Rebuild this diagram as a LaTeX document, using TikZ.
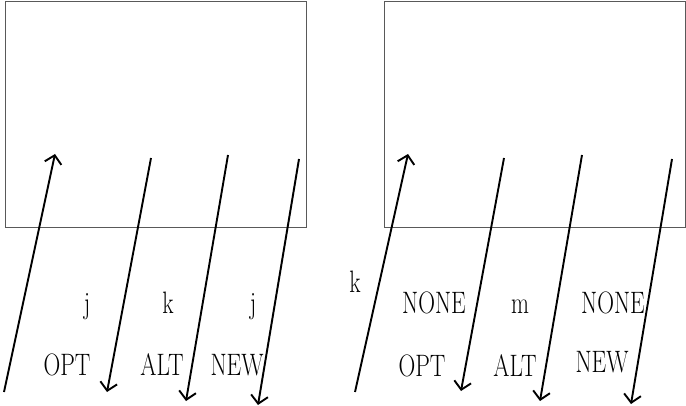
\documentclass[tikz,border=0pt]{standalone}
\usetikzlibrary{arrows.meta}
\begin{document}
\begin{tikzpicture}[x=1pt,y=-1pt,
  panel/.style={draw=black!65,line width=1.2pt},
  arr/.style={line width=1.9pt,-{Straight Barb[length=8pt,width=17pt,line width=1.9pt]}},
  lbl/.style={anchor=base,inner sep=0pt,font=\fontsize{31}{34}\selectfont,xscale=0.75,transform shape}]
\useasboundingbox (0,0) rectangle (686,406);
\node[panel,minimum width=301pt,minimum height=226pt,inner sep=0pt,anchor=north west] (boxA) at (5,0.6) {};
\node[panel,minimum width=301pt,minimum height=226pt,inner sep=0pt,anchor=north west] (boxB) at (383.5,0.6) {};
% left panel arrows
\coordinate (a1s) at (4,392);   \coordinate (a1e) at (55,154);
\coordinate (a2s) at (151,158); \coordinate (a2e) at (107,392);
\coordinate (a3s) at (228,155); \coordinate (a3e) at (186,401);
\coordinate (a4s) at (299,159); \coordinate (a4e) at (258,405);
\draw[arr] (a1s) -- (a1e);
\draw[arr] (a2s) -- (a2e);
\draw[arr] (a3s) -- (a3e);
\draw[arr] (a4s) -- (a4e);
% right panel arrows
\coordinate (b1s) at (355,392); \coordinate (b1e) at (408,154);
\coordinate (b2s) at (504,158); \coordinate (b2e) at (461,391);
\coordinate (b3s) at (582,155); \coordinate (b3e) at (540,401);
\coordinate (b4s) at (672,159); \coordinate (b4e) at (631,404);
\draw[arr] (b1s) -- (b1e);
\draw[arr] (b2s) -- (b2e);
\draw[arr] (b3s) -- (b3e);
\draw[arr] (b4s) -- (b4e);
% left labels
\node[lbl] (lj1) at (87,313) {j};
\node[lbl] (lk) at (168,313) {k};
\node[lbl] (lj2) at (253,313) {j};
\node[lbl] (lopt) at (67,375) {OPT};
\node[lbl] (lalt) at (162,375) {ALT};
\node[lbl] (lnew) at (237,375) {NEW};
% right labels
\node[lbl] (rk) at (355,293) {k};
\node[lbl] (rnone1) at (434,313) {NONE};
\node[lbl] (rm) at (520,313) {m};
\node[lbl] (rnone2) at (613,313) {NONE};
\node[lbl] (ropt) at (422,377) {OPT};
\node[lbl] (ralt) at (515,377) {ALT};
\node[lbl] (rnew) at (602,373) {NEW};
\end{tikzpicture}
\end{document}
